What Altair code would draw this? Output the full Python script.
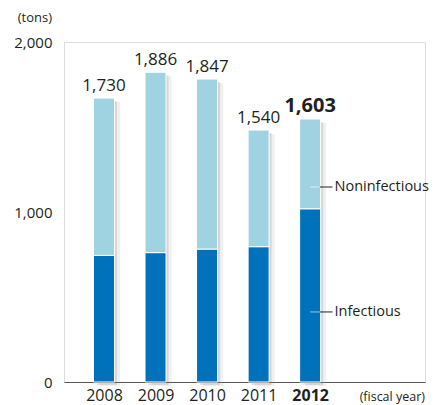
import altair as alt
import pandas as pd

years = [2008, 2009, 2010, 2011, 2012]
infectious = [745, 761, 782, 796, 1019]
noninfectious = [925, 1061, 1000, 686, 528]
total_labels = ["1,730", "1,886", "1,847", "1,540", "1,603"]

ann_names = ["Noninfectious", "Infectious"]
ann_levels = [1147, 412]

FONT = "Open Sans"
TXT = "#231f20"
LIGHT = "#a0d3e2"
DARK = "#0071bb"

df = pd.DataFrame({
    "year": years,
    "inf": infectious,
    "non": noninfectious,
    "label": total_labels,
})
df["top"] = df["inf"] + df["non"]

ann = pd.DataFrame({"name": ann_names, "level": ann_levels})
ann["x0"] = 2012.0
ann["xm"] = 2012.19
ann["x1"] = 2012.434

xscale = alt.Scale(domain=[2007.321, 2014.132], nice=False, zero=False)
yscale = alt.Scale(domain=[0, 2000], nice=False)

xaxis = alt.Axis(
    values=years, format="d", title=None, grid=False, ticks=False,
    domainColor="#555555", domainWidth=1, labelFont=FONT, labelFontSize=16,
    labelColor=TXT, labelPadding=5,
    labelFontWeight={"condition": {"test": "datum.value == 2012", "value": "bold"}, "value": "normal"},
)
yaxis = alt.Axis(
    values=[0, 1000, 2000], format=",d", title=None, grid=False, ticks=False,
    domain=False, labelFont=FONT, labelFontSize=15, labelColor=TXT, labelPadding=12,
)

def X(field):
    return alt.X(field, scale=xscale, axis=xaxis)

def Y(field):
    return alt.Y(field, scale=yscale, axis=yaxis)

base = alt.Chart(df)

shadow1 = base.mark_bar(size=20, xOffset=3, yOffset=3, color="#7a7a7a", opacity=0.22).encode(
    x=X("year:Q"), y=Y("top:Q"))
shadow2 = base.mark_bar(size=20, xOffset=6, yOffset=4, color="#9a9a9a", opacity=0.15).encode(
    x=X("year:Q"), y=Y("top:Q"))

inf_bar = base.mark_bar(size=21, color=DARK, stroke="white", strokeWidth=1).encode(
    x=X("year:Q"), y=Y("inf:Q"))
non_bar = base.mark_bar(size=21, color=LIGHT, stroke="white", strokeWidth=1).encode(
    x=X("year:Q"), y=Y("inf:Q"), y2="top:Q")

labels = base.transform_filter("datum.year != 2012").mark_text(
    baseline="alphabetic", dy=-7, font=FONT, fontSize=17, color=TXT).encode(
    x=X("year:Q"), y=Y("top:Q"), text="label:N")
label_bold = base.transform_filter("datum.year == 2012").mark_text(
    baseline="alphabetic", dy=-7, font=FONT, fontSize=20, fontWeight="bold", color=TXT).encode(
    x=X("year:Q"), y=Y("top:Q"), text="label:N")

abase = alt.Chart(ann)
ann_in = abase.mark_rule(color="white", opacity=0.6, strokeWidth=1).encode(
    x=X("x0:Q"), x2="xm:Q", y=Y("level:Q"))
ann_out = abase.mark_rule(color=TXT, strokeWidth=1).encode(
    x=X("xm:Q"), x2="x1:Q", y=Y("level:Q"))
ann_txt = abase.mark_text(align="left", baseline="middle", dx=2, font=FONT,
                          fontSize=14.5, color=TXT).encode(
    x=X("x1:Q"), y=Y("level:Q"), text="name:N")

tons = alt.Chart(pd.DataFrame({"t": ["(tons)"]})).mark_text(
    align="right", baseline="middle", font=FONT, fontSize=13, color=TXT).encode(
    x=alt.value(-12), y=alt.value(-24), text="t:N")
fiscal = alt.Chart(pd.DataFrame({"t": ["(fiscal year)"]})).mark_text(
    align="right", baseline="middle", font=FONT, fontSize=12.5, color=TXT).encode(
    x=alt.value(361), y=alt.value(355), text="t:N")

chart = alt.layer(
    shadow2, shadow1, inf_bar, non_bar, labels, label_bold,
    ann_in, ann_out, ann_txt, tons, fiscal,
).properties(
    width=361, height=340,
    autosize=alt.AutoSizeParams(type="none"),
    padding={"left": 56, "top": 34, "right": 10, "bottom": 22},
).configure_view(stroke=None).configure(background="white")

chart.save("out.html", embed_options={"renderer": "svg", "actions": False})
